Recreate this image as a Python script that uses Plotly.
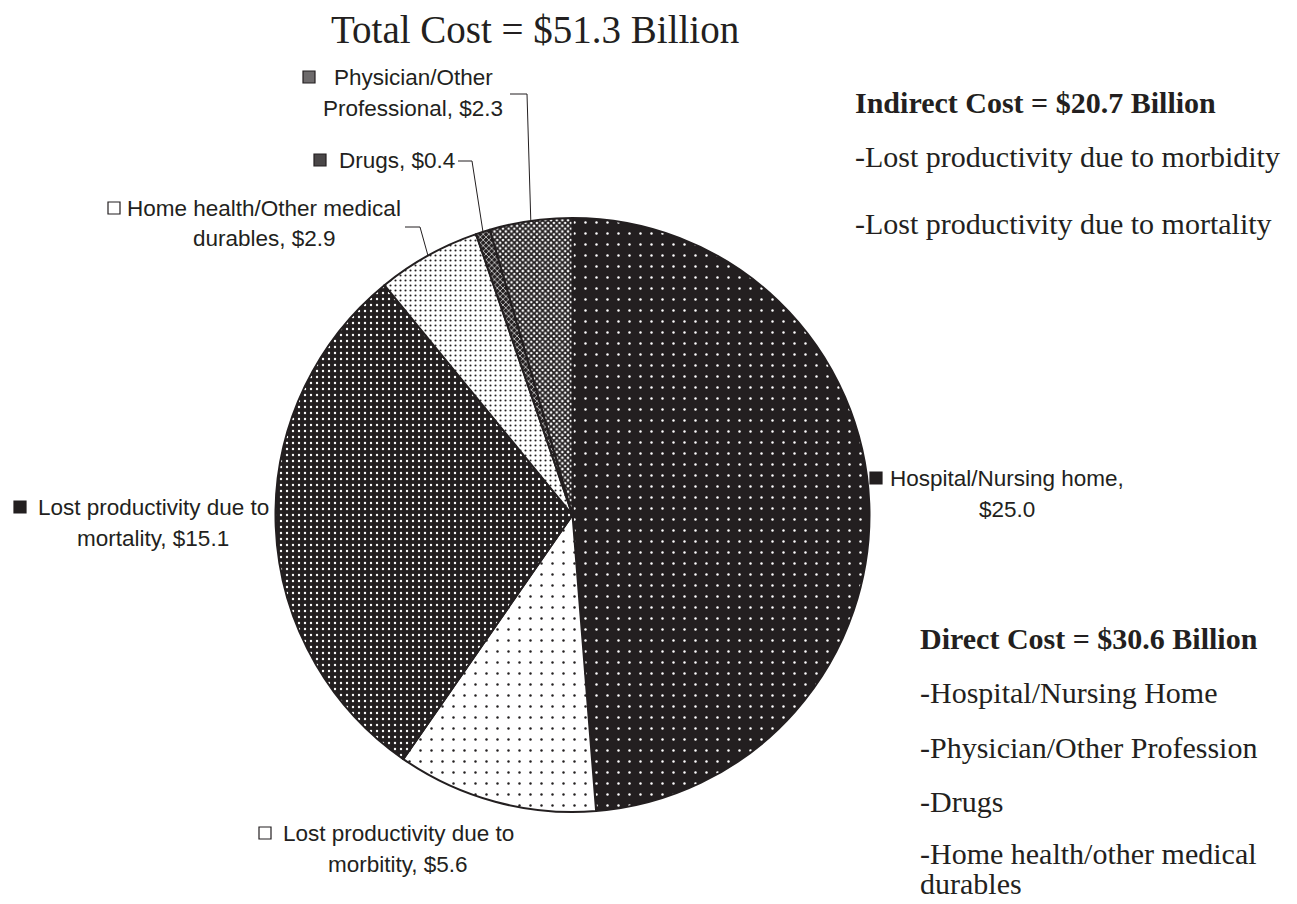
import math
import plotly.graph_objects as go

# ---------------- data ----------------
categories = [
    "Hospital/Nursing home",
    "Lost productivity due to morbitity",
    "Lost productivity due to mortality",
    "Home health/Other medical durables",
    "Drugs",
    "Physician/Other Professional",
]
values = [25.0, 5.6, 15.1, 2.9, 0.4, 2.3]
title_text = "Total Cost = $51.3 Billion"
indirect_header = "Indirect Cost = $20.7 Billion"
indirect_items = ["-Lost productivity due to morbidity", "-Lost productivity due to mortality"]
direct_header = "Direct Cost = $30.6 Billion"
direct_items = ["-Hospital/Nursing Home", "-Physician/Other Profession", "-Drugs",
                "-Home health/other medical", "durables"]

# ---------------- layout helpers ----------------
W, H = 1297, 904
OFF = 8                      # page body margin around the plot div
INK = "#231f20"


def px(x):
    return (x - OFF) / W


def py(y):
    return 1 - (y - OFF) / H


# pie geometry (page pixels)
CX, CY, R = 572.5, 515.0, 297.0

# slice styles (pattern fills)
patterns = [
    dict(shape=".", bgcolor=INK, fgcolor="white", size=11, solidity=0.04),
    dict(shape=".", bgcolor="white", fgcolor=INK, size=11, solidity=0.04),
    dict(shape=".", bgcolor=INK, fgcolor="white", size=6, solidity=0.12),
    dict(shape=".", bgcolor="white", fgcolor=INK, size=5, solidity=0.14),
    dict(shape="x", bgcolor=INK, fgcolor="white", size=4, solidity=0.3),
    dict(shape="x", bgcolor="white", fgcolor=INK, size=4, solidity=0.7),
]

fig = go.Figure(go.Pie(
    labels=categories,
    values=values,
    sort=False,
    direction="clockwise",
    rotation=0,
    textinfo="none",
    hoverinfo="skip",
    showlegend=False,
    marker=dict(
        colors=[p["bgcolor"] for p in patterns],
        pattern=dict(
            shape=[p["shape"] for p in patterns],
            bgcolor=[p["bgcolor"] for p in patterns],
            fgcolor=[p["fgcolor"] for p in patterns],
            size=[p["size"] for p in patterns],
            solidity=[p["solidity"] for p in patterns],
            fillmode="replace",
        ),
        line=dict(color=INK, width=2),
    ),
    domain=dict(x=[px(CX - R), px(CX + R)], y=[py(CY + R), py(CY - R)]),
))


def label_lines(i):
    full = f"{categories[i]}, ${values[i]:.1f}"
    splits = {0: "Hospital/Nursing home,", 1: "Lost productivity due to",
              2: "Lost productivity due to", 3: "Home health/Other medical",
              5: "Physician/Other"}
    if i in splits:
        first = splits[i]
        return [first, full[len(first):].strip()]
    return [full]


label_place = {
    # i: (text x, first line y, anchor, icon left x, icon y)
    0: (1007, 478, "center", 870, 478),
    1: (398, 833, "center", 259, 833),
    2: (153, 507, "center", 14, 507),
    3: (264, 208, "center", 108, 208),
    4: (337, 160, "left", 314, 160),
    5: (413, 77, "center", 303, 77),
}
LINE_GAP = 31
icon_style = {
    0: dict(fill=INK, line=INK),
    1: dict(fill="white", line=INK),
    2: dict(fill=INK, line=INK),
    3: dict(fill="white", line=INK),
    4: dict(fill="#4a4748", line=INK),
    5: dict(fill="#6d6a6b", line=INK),
}

annotations = []
shapes = []
LBL_FONT = dict(family="Liberation Sans, Arial", size=22.5, color=INK)

for i in range(len(values)):
    tx, ty, anc, ix, iy = label_place[i]
    for k, line in enumerate(label_lines(i)):
        annotations.append(dict(
            x=px(tx), y=py(ty + k * LINE_GAP), xref="paper", yref="paper",
            text=line, showarrow=False, xanchor=anc, yanchor="middle",
            font=LBL_FONT,
        ))
    st = icon_style[i]
    shapes.append(dict(type="rect", xref="paper", yref="paper",
                       x0=px(ix), x1=px(ix + 12), y0=py(iy - 6), y1=py(iy + 6),
                       fillcolor=st["fill"], line=dict(color=st["line"], width=1.2)))

# leader lines to slice mid-angles
total = sum(values)
cum = 0.0
mid_angle = []
for v in values:
    mid_angle.append((cum + v / 2) / total * 2 * math.pi)
    cum += v

leaders = {5: (510, 527, 94), 4: (458, 472, 161), 3: (405, 420, 227)}
for i, (x0, x1, yy) in leaders.items():
    a = mid_angle[i]
    ex = CX + R * math.sin(a)
    ey = CY - R * math.cos(a)
    path = f"M {px(x0)},{py(yy)} L {px(x1)},{py(yy)} L {px(ex)},{py(ey)}"
    shapes.append(dict(type="path", xref="paper", yref="paper", path=path,
                       line=dict(color=INK, width=1)))

# title and side text
SERIF = "Liberation Serif, Times New Roman"
annotations.append(dict(x=px(535), y=py(30), xref="paper", yref="paper",
                        text=title_text, showarrow=False, xanchor="center", yanchor="middle",
                        font=dict(family=SERIF, size=39, color=INK)))
annotations.append(dict(x=px(853), y=py(102), xref="paper", yref="paper",
                        text=f"<b>{indirect_header}</b>", showarrow=False,
                        xanchor="left", yanchor="middle",
                        font=dict(family=SERIF, size=30, color=INK)))
for k, t in enumerate(indirect_items):
    annotations.append(dict(x=px(853), y=py(157 + k * 66), xref="paper", yref="paper",
                            text=t, showarrow=False, xanchor="left", yanchor="middle",
                            font=dict(family=SERIF, size=30, color=INK)))
annotations.append(dict(x=px(918), y=py(638), xref="paper", yref="paper",
                        text=f"<b>{direct_header}</b>", showarrow=False,
                        xanchor="left", yanchor="middle",
                        font=dict(family=SERIF, size=30, color=INK)))
direct_y = [692, 747, 801, 853, 883]
for t, yy in zip(direct_items, direct_y):
    annotations.append(dict(x=px(918), y=py(yy), xref="paper", yref="paper",
                            text=t, showarrow=False, xanchor="left", yanchor="middle",
                            font=dict(family=SERIF, size=30, color=INK)))

fig.update_layout(
    width=W, height=H,
    margin=dict(l=0, r=0, t=0, b=0),
    paper_bgcolor="white", plot_bgcolor="white",
    annotations=annotations,
    shapes=shapes,
    showlegend=False,
)

fig.write_html("out.html")
